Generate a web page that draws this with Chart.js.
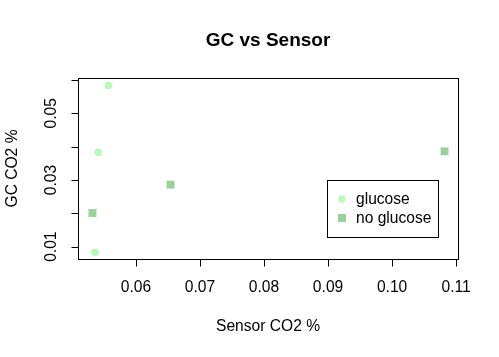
<!DOCTYPE html>
<html>
<head>
<meta charset="utf-8">
<script src="https://cdn.jsdelivr.net/npm/chart.js@4"></script>
<style>
html,body{margin:0;padding:0;background:#fff;}
#wrap{width:499px;height:357px;}
</style>
</head>
<body>
<div id="wrap"><canvas id="c" width="499" height="357"></canvas></div>
<script>
// Data
const glucoseX = [0.0557, 0.0541, 0.0536];
const glucoseY = [0.0584, 0.0383, 0.0083];
const noGlucoseX = [0.0532, 0.0654, 0.1082];
const noGlucoseY = [0.0201, 0.0286, 0.0386];
const seriesNames = ["glucose", "no glucose"];
const xTicks = [0.06, 0.07, 0.08, 0.09, 0.10, 0.11];
const xTickLabels = ["0.06", "0.07", "0.08", "0.09", "0.10", "0.11"];
const yTicks = [0.01, 0.02, 0.03, 0.04, 0.05, 0.06];
const yTickLabels = ["0.01", "", "0.03", "", "0.05", ""];
const titleText = "GC vs Sensor";
const xTitle = "Sensor CO2 %";
const yTitle = "GC CO2 %";

const colGlucose = "#BDF7BD";
const colNoGlucose = "#9CCF9C";
const FONT = "'Liberation Sans', Arial, sans-serif";
const BASE = 15.6;

const toPts = (xs, ys) => xs.map((x, i) => ({x: x, y: ys[i]}));

const rStyle = {
  id: 'rStyle',
  afterDraw(chart) {
    const ctx = chart.ctx;
    const a = chart.chartArea;
    const xs = chart.scales.x, ys = chart.scales.y;
    ctx.save();
    ctx.strokeStyle = '#000';
    ctx.lineWidth = 1;
    ctx.fillStyle = '#000';
    // box
    ctx.strokeRect(Math.round(a.left) + 0.5, Math.round(a.top) + 0.5,
                   Math.round(a.right - a.left), Math.round(a.bottom - a.top));
    // x ticks
    ctx.font = BASE + "px " + FONT;
    ctx.textAlign = 'center';
    ctx.textBaseline = 'middle';
    const xAxisY = Math.round(a.bottom) + 0.5;
    ctx.beginPath();
    ctx.moveTo(Math.round(xs.getPixelForValue(xTicks[0])) + 0.5, xAxisY);
    ctx.lineTo(Math.round(xs.getPixelForValue(xTicks[xTicks.length - 1])) + 0.5, xAxisY);
    xTicks.forEach((t) => {
      const px = Math.round(xs.getPixelForValue(t)) + 0.5;
      ctx.moveTo(px, xAxisY);
      ctx.lineTo(px, xAxisY + 7);
    });
    ctx.stroke();
    xTicks.forEach((t, i) => {
      ctx.fillText(xTickLabels[i], xs.getPixelForValue(t), 288);
    });
    // y ticks
    const yAxisX = Math.round(a.left) + 0.5;
    ctx.beginPath();
    yTicks.forEach((t) => {
      const py = Math.round(ys.getPixelForValue(t)) + 0.5;
      ctx.moveTo(yAxisX, py);
      ctx.lineTo(yAxisX - 7, py);
    });
    ctx.stroke();
    yTicks.forEach((t, i) => {
      if (!yTickLabels[i]) return;
      ctx.save();
      ctx.translate(52, ys.getPixelForValue(t));
      ctx.rotate(-Math.PI / 2);
      ctx.fillText(yTickLabels[i], 0, 0);
      ctx.restore();
    });
    // axis titles
    ctx.fillText(xTitle, (a.left + a.right) / 2, 327);
    ctx.save();
    ctx.translate(13, (a.top + a.bottom) / 2);
    ctx.rotate(-Math.PI / 2);
    ctx.fillText(yTitle, 0, 0);
    ctx.restore();
    // title
    ctx.font = "bold " + (BASE * 1.22) + "px " + FONT;
    ctx.fillText(titleText, (a.left + a.right) / 2, 41);
    // legend
    ctx.strokeRect(327.5, 180.5, 111, 57);
    ctx.font = BASE + "px " + FONT;
    ctx.textAlign = 'left';
    ctx.fillText(seriesNames[0], 356, 200);
    ctx.fillText(seriesNames[1], 356, 219);
    ctx.fillStyle = colGlucose;
    ctx.beginPath();
    ctx.arc(342, 199, 3.7, 0, Math.PI * 2);
    ctx.fill();
    ctx.fillStyle = colNoGlucose;
    ctx.fillRect(338, 214, 8, 8);
    ctx.restore();
  }
};

new Chart(document.getElementById('c'), {
  type: 'scatter',
  data: {
    datasets: [
      {label: seriesNames[0], data: toPts(glucoseX, glucoseY), pointStyle: 'circle', pointRadius: 3.9,
       backgroundColor: colGlucose, borderColor: colGlucose, borderWidth: 0, pointHoverRadius: 3.9},
      {label: seriesNames[1], data: toPts(noGlucoseX, noGlucoseY), pointStyle: 'rect', pointRadius: 5.6,
       backgroundColor: colNoGlucose, borderColor: colNoGlucose, borderWidth: 0, pointHoverRadius: 5.6}
    ]
  },
  options: {
    responsive: false,
    animation: false,
    events: [],
    layout: {padding: {left: 78, top: 78, right: 41, bottom: 98}},
    plugins: {legend: {display: false}, title: {display: false}, tooltip: {enabled: false}},
    scales: {
      x: {type: 'linear', min: 0.05094, max: 0.1103, display: false},
      y: {type: 'linear', min: 0.0063, max: 0.0606, display: false}
    }
  },
  plugins: [rStyle]
});
</script>
</body>
</html>
